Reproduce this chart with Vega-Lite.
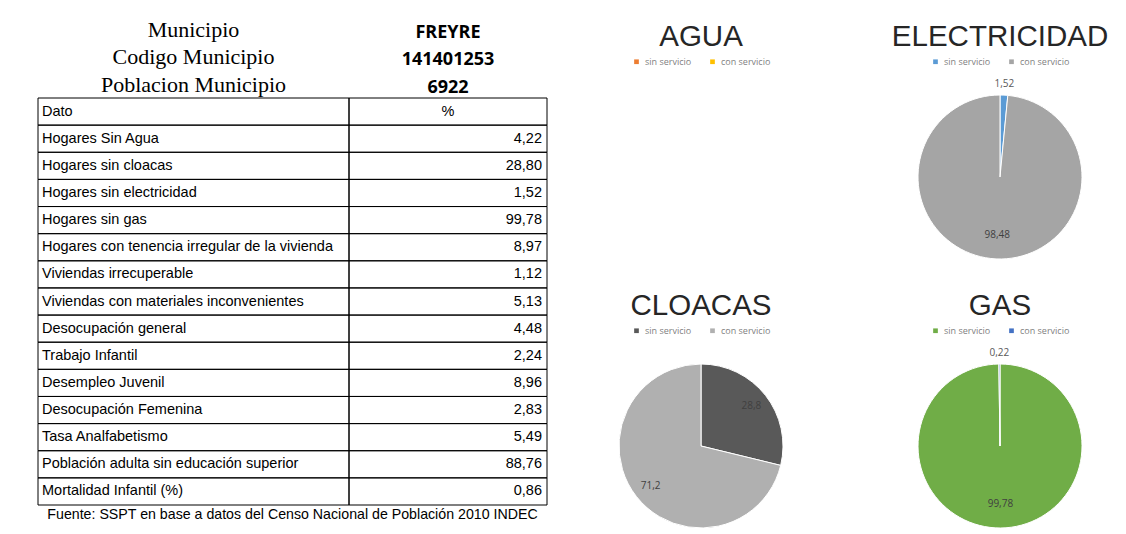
{
  "$schema": "https://vega.github.io/schema/vega-lite/v6.json",
  "background": "white",
  "padding": {"top": 18, "left": 37, "right": 0, "bottom": 0},
  "config": {
    "view": {"stroke": null},
    "locale": {"number": {"decimal": ",", "thousands": ".", "grouping": [3], "currency": ["$", ""]}},
    "legend": {"orient": "top", "direction": "horizontal", "title": null, "labelFontSize": 9, "labelColor": "#7f7f7f", "labelFont": "Open Sans", "symbolType": "square", "symbolSize": 22, "symbolStrokeWidth": 0, "symbolOpacity": 1, "columnPadding": 16, "offset": 31, "layout": {"top": {"anchor": "middle"}}},
    "title": {"font": "Liberation Sans", "fontWeight": "normal", "fontSize": 29.5, "color": "#262626", "anchor": "middle", "offset": 5}
  },
  "datasets": {
    "tabla": [
      {"dato": "Dato", "pct": null},
      {"dato": "Hogares Sin Agua", "pct": 4.22},
      {"dato": "Hogares sin cloacas", "pct": 28.80},
      {"dato": "Hogares sin electricidad", "pct": 1.52},
      {"dato": "Hogares sin gas", "pct": 99.78},
      {"dato": "Hogares con tenencia irregular de la vivienda", "pct": 8.97},
      {"dato": "Viviendas irrecuperable", "pct": 1.12},
      {"dato": "Viviendas con materiales inconvenientes", "pct": 5.13},
      {"dato": "Desocupación general", "pct": 4.48},
      {"dato": "Trabajo Infantil", "pct": 2.24},
      {"dato": "Desempleo Juvenil", "pct": 8.96},
      {"dato": "Desocupación Femenina", "pct": 2.83},
      {"dato": "Tasa Analfabetismo", "pct": 5.49},
      {"dato": "Población adulta  sin educación superior", "pct": 88.76},
      {"dato": "Mortalidad Infantil (%)", "pct": 0.86}
    ]
  },
  "spacing": 28,
  "resolve": {"scale": {"x": "independent", "y": "independent", "color": "independent", "theta": "independent"}, "legend": {"color": "independent"}},
  "hconcat": [
    {
      "title": {"text": "Fuente: SSPT en base a datos del Censo Nacional de Población 2010 INDEC", "orient": "bottom", "anchor": "middle", "fontSize": 14.2, "font": "Liberation Sans", "color": "#000", "offset": 2},
      "spacing": 0,
      "bounds": "flush",
      "hconcat": [
        {
          "width": 311, "height": 407,
          "title": {"text": ["Municipio", "Codigo Municipio", "Poblacion Municipio"], "font": "Liberation Serif", "fontSize": 22, "color": "#000", "lineHeight": 27.5, "offset": 1},
          "data": {"name": "tabla"},
          "encoding": {
            "y": {"field": "dato", "type": "nominal", "sort": null, "scale": {"type": "band", "paddingInner": 0, "paddingOuter": 0}, "axis": null}
          },
          "layer": [
            {"mark": {"type": "rect", "fill": "transparent", "stroke": "#000", "strokeWidth": 1}},
            {
              "mark": {"type": "text", "align": "left", "dx": 4, "font": "Liberation Sans", "fontSize": 14.5, "color": "#000", "baseline": "middle"},
              "encoding": {
                "x": {"datum": 0, "type": "quantitative", "scale": {"domain": [0, 1]}, "axis": null},
                "text": {"field": "dato"}
              }
            }
          ]
        },
        {
          "width": 198, "height": 407,
          "title": {"text": ["FREYRE", "141401253", "6922"], "font": "Open Sans", "fontWeight": "bold", "fontSize": 18, "color": "#000", "lineHeight": 27.5, "offset": 1},
          "data": {"name": "tabla"},
          "encoding": {
            "y": {"field": "dato", "type": "nominal", "sort": null, "scale": {"type": "band", "paddingInner": 0, "paddingOuter": 0}, "axis": null}
          },
          "layer": [
            {"mark": {"type": "rect", "fill": "transparent", "stroke": "#000", "strokeWidth": 1}},
            {
              "mark": {"type": "text", "align": "right", "dx": -5, "font": "Liberation Sans", "fontSize": 14.5, "color": "#000", "baseline": "middle"},
              "encoding": {
                "x": {"datum": 1, "type": "quantitative", "scale": {"domain": [0, 1]}, "axis": null},
                "text": {"condition": {"test": "datum.pct == null", "value": ""}, "field": "pct", "type": "quantitative", "format": ".2f"}
              }
            },
            {
              "mark": {"type": "text", "align": "center", "font": "Liberation Sans", "fontSize": 14.5, "color": "#000", "baseline": "middle"},
              "encoding": {
                "text": {"condition": {"test": "datum.pct == null", "value": "%"}, "value": ""}
              }
            }
          ]
        }
      ]
    },
    {
      "columns": 2,
      "spacing": {"row": 15, "column": 49},
      "resolve": {"scale": {"color": "independent", "theta": "independent"}, "legend": {"color": "independent"}},
      "concat": [
        {
          "width": 250, "height": 158,
          "title": {"text": "AGUA"},
          "data": {"values": [{"servicio": "sin servicio", "valor": 4.22}, {"servicio": "con servicio", "valor": 95.78}]},
          "mark": {"type": "arc", "outerRadius": 0, "opacity": 0},
          "encoding": {
            "theta": {"field": "valor", "type": "quantitative", "stack": true},
            "order": {"field": "servicio", "sort": "descending"},
            "color": {"field": "servicio", "type": "nominal", "scale": {"domain": ["sin servicio", "con servicio"], "range": ["#ED7D31", "#FFC000"]}}
          }
        },
        {
          "width": 250, "height": 158,
          "title": {"text": "ELECTRICIDAD"},
          "data": {"values": [{"servicio": "sin servicio", "valor": 1.52}, {"servicio": "con servicio", "valor": 98.48}]},
          "encoding": {
            "theta": {"field": "valor", "type": "quantitative", "stack": true},
            "order": {"field": "servicio", "sort": "descending"}
          },
          "layer": [
            {"mark": {"type": "arc", "outerRadius": 82, "stroke": "#fff", "strokeWidth": 1},
             "encoding": {"color": {"field": "servicio", "type": "nominal", "scale": {"domain": ["sin servicio", "con servicio"], "range": ["#5B9BD5", "#A5A5A5"]}}}},
            {"mark": {"type": "text", "radius": 58, "fontSize": 10, "font": "Open Sans", "color": "#404040"},
             "encoding": {"detail": {"field": "servicio"}, "text": {"condition": {"test": "datum.valor < 5", "value": ""}, "field": "valor", "type": "quantitative", "format": ".2~f"}}},
            {"mark": {"type": "text", "radius": 93, "fontSize": 10, "font": "Open Sans", "color": "#595959"},
             "encoding": {"detail": {"field": "servicio"}, "text": {"condition": {"test": "datum.valor >= 5", "value": ""}, "field": "valor", "type": "quantitative", "format": ".2~f"}}}
          ]
        },
        {
          "width": 250, "height": 158,
          "title": {"text": "CLOACAS"},
          "data": {"values": [{"servicio": "sin servicio", "valor": 28.8}, {"servicio": "con servicio", "valor": 71.2}]},
          "encoding": {
            "theta": {"field": "valor", "type": "quantitative", "stack": true},
            "order": {"field": "servicio", "sort": "descending"}
          },
          "layer": [
            {"mark": {"type": "arc", "outerRadius": 82, "stroke": "#fff", "strokeWidth": 1},
             "encoding": {"color": {"field": "servicio", "type": "nominal", "scale": {"domain": ["sin servicio", "con servicio"], "range": ["#595959", "#B0B0B0"]}}}},
            {"mark": {"type": "text", "radius": 64, "fontSize": 10, "font": "Open Sans", "color": "#404040"},
             "encoding": {"detail": {"field": "servicio"}, "text": {"condition": {"test": "datum.valor < 5", "value": ""}, "field": "valor", "type": "quantitative", "format": ".2~f"}}},
            {"mark": {"type": "text", "radius": 93, "fontSize": 10, "font": "Open Sans", "color": "#595959"},
             "encoding": {"detail": {"field": "servicio"}, "text": {"condition": {"test": "datum.valor >= 5", "value": ""}, "field": "valor", "type": "quantitative", "format": ".2~f"}}}
          ]
        },
        {
          "width": 250, "height": 158,
          "title": {"text": "GAS"},
          "data": {"values": [{"servicio": "sin servicio", "valor": 99.78}, {"servicio": "con servicio", "valor": 0.22}]},
          "encoding": {
            "theta": {"field": "valor", "type": "quantitative", "stack": true},
            "order": {"field": "servicio", "sort": "descending"}
          },
          "layer": [
            {"mark": {"type": "arc", "outerRadius": 82, "stroke": "#fff", "strokeWidth": 1},
             "encoding": {"color": {"field": "servicio", "type": "nominal", "scale": {"domain": ["sin servicio", "con servicio"], "range": ["#70AD47", "#4472C4"]}}}},
            {"mark": {"type": "text", "radius": 58, "fontSize": 10, "font": "Open Sans", "color": "#404040"},
             "encoding": {"detail": {"field": "servicio"}, "text": {"condition": {"test": "datum.valor < 5", "value": ""}, "field": "valor", "type": "quantitative", "format": ".2~f"}}},
            {"mark": {"type": "text", "radius": 93, "fontSize": 10, "font": "Open Sans", "color": "#595959"},
             "encoding": {"detail": {"field": "servicio"}, "text": {"condition": {"test": "datum.valor >= 5", "value": ""}, "field": "valor", "type": "quantitative", "format": ".2~f"}}}
          ]
        }
      ]
    }
  ]
}
